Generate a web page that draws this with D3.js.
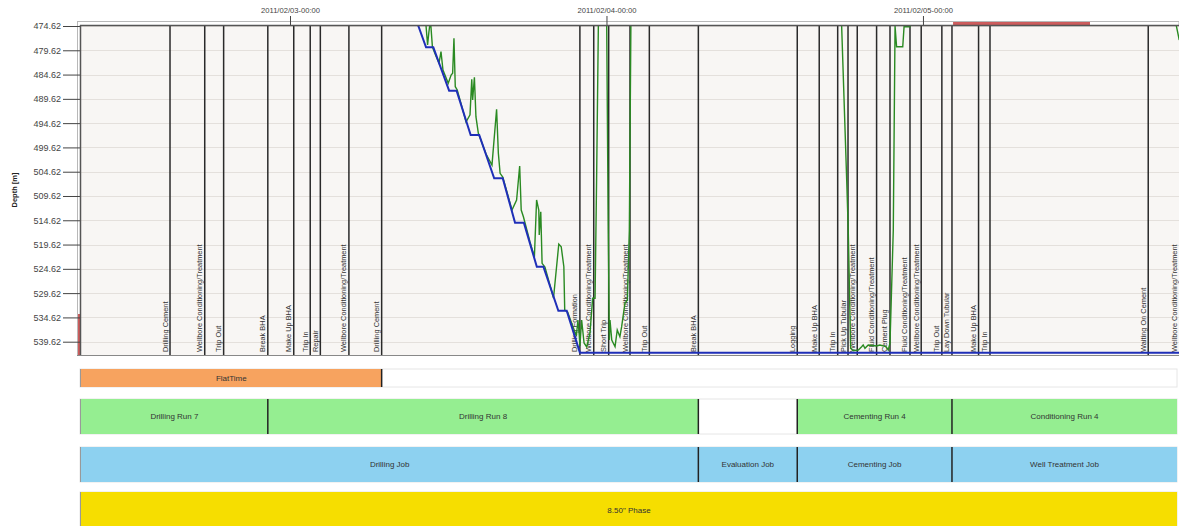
<!DOCTYPE html>
<html><head><meta charset="utf-8">
<script src="https://cdn.jsdelivr.net/npm/d3@7"></script>
<style>
body{margin:0;background:#fff;}
svg{font-family:"Liberation Sans",Arial,sans-serif;display:block}
</style>
</head><body>
<svg id="chart" width="1179" height="526"></svg>
<script>
// ---------- data ----------
const timeDomain = ["2011-02-02 08:09", "2011-02-05 19:25"];
const depthDomain = [474.62, 542.36];
const depthTicks = [474.62, 479.62, 484.62, 489.62, 494.62, 499.62, 504.62, 509.62, 514.62, 519.62, 524.62, 529.62, 534.62, 539.62];
const timeTicks = ["2011-02-03 00:00", "2011-02-04 00:00", "2011-02-05 00:00"];

const activityNames = [
  "Drilling Cement", "Wellbore Conditioning/Treatment", "Trip Out", "Break BHA", "Make Up BHA",
  "Trip In", "Repair", "Wellbore Conditioning/Treatment", "Drilling Cement", "Drilling Formation",
  "Wellbore Conditioning/Treatment", "Short Trip", "Wellbore Conditioning/Treatment", "Trip Out", "Break BHA",
  "Logging", "Make Up BHA", "Trip In", "Pick Up Tubular", "Wellbore Conditioning/Treatment",
  "Fluid Conditioning/Treatment", "Cement Plug", "Fluid Conditioning/Treatment", "Wellbore Conditioning/Treatment", "Trip Out",
  "Lay Down Tubular", "Make Up BHA", "Trip In", "Waiting On Cement", "Wellbore Conditioning/Treatment"
];
const activityEnds = [
  "2011-02-02 14:54", "2011-02-02 17:32", "2011-02-02 18:58", "2011-02-02 22:19", "2011-02-03 00:17",
  "2011-02-03 01:32", "2011-02-03 02:18", "2011-02-03 04:28", "2011-02-03 06:57", "2011-02-03 21:59",
  "2011-02-03 23:02", "2011-02-04 00:10", "2011-02-04 01:47", "2011-02-04 03:15", "2011-02-04 06:58",
  "2011-02-04 14:28", "2011-02-04 16:08", "2011-02-04 17:32", "2011-02-04 18:19", "2011-02-04 19:01",
  "2011-02-04 20:29", "2011-02-04 21:30", "2011-02-04 23:01", "2011-02-04 23:52", "2011-02-05 01:26",
  "2011-02-05 02:12", "2011-02-05 04:13", "2011-02-05 05:05", "2011-02-05 17:05", "2011-02-05 19:25"
];

// hole depth (blue)
const holeDepth = [
  ["2011-02-03 09:20", 472.0], ["2011-02-03 09:44", 474.62], ["2011-02-03 10:19", 479.00], ["2011-02-03 10:52", 479.00],
  ["2011-02-03 12:04", 487.94], ["2011-02-03 12:38", 487.94], ["2011-02-03 13:42", 497.06], ["2011-02-03 14:21", 497.06],
  ["2011-02-03 15:29", 505.98], ["2011-02-03 16:08", 505.98], ["2011-02-03 17:04", 515.12], ["2011-02-03 17:44", 515.12],
  ["2011-02-03 18:43", 524.18], ["2011-02-03 19:13", 524.18], ["2011-02-03 20:21", 533.24], ["2011-02-03 20:59", 533.24],
  ["2011-02-03 21:59", 541.88], ["2011-02-05 19:25", 541.88]
];

// bit depth (green)
const bitDepth = [
  ["2011-02-03 09:51", 468.2], ["2011-02-03 10:19", 474.62], ["2011-02-03 10:26", 478.53], ["2011-02-03 10:32", 475.86],
  ["2011-02-03 10:39", 473.38], ["2011-02-03 10:48", 478.94], ["2011-02-03 11:04", 480.80], ["2011-02-03 11:18", 482.24],
  ["2011-02-03 11:27", 479.91], ["2011-02-03 11:36", 483.68], ["2011-02-03 12:00", 486.42], ["2011-02-03 12:13", 484.71],
  ["2011-02-03 12:20", 484.36], ["2011-02-03 12:26", 477.15], ["2011-02-03 12:32", 487.12], ["2011-02-03 12:41", 487.80],
  ["2011-02-03 13:07", 492.04], ["2011-02-03 13:21", 494.39], ["2011-02-03 13:39", 492.92], ["2011-02-03 13:47", 485.59],
  ["2011-02-03 13:51", 489.86], ["2011-02-03 13:59", 485.18], ["2011-02-03 14:06", 493.29], ["2011-02-03 14:17", 496.71],
  ["2011-02-03 14:52", 500.98], ["2011-02-03 15:19", 503.24], ["2011-02-03 15:40", 491.77], ["2011-02-03 15:48", 500.83],
  ["2011-02-03 15:56", 504.95], ["2011-02-03 16:08", 505.71], ["2011-02-03 16:50", 512.51], ["2011-02-03 17:11", 510.45],
  ["2011-02-03 17:25", 503.45], ["2011-02-03 17:32", 512.51], ["2011-02-03 17:42", 513.89], ["2011-02-03 18:12", 519.09],
  ["2011-02-03 18:32", 522.18], ["2011-02-03 18:42", 510.45], ["2011-02-03 18:52", 512.51], ["2011-02-03 18:54", 517.65],
  ["2011-02-03 19:01", 512.85], ["2011-02-03 19:07", 523.48], ["2011-02-03 19:20", 524.24], ["2011-02-03 19:59", 530.62],
  ["2011-02-03 20:23", 519.51], ["2011-02-03 20:34", 520.06], ["2011-02-03 20:46", 524.18], ["2011-02-03 20:50", 533.10],
  ["2011-02-03 21:03", 533.51], ["2011-02-03 21:43", 538.45], ["2011-02-03 21:50", 535.15], ["2011-02-03 21:56", 538.24],
  ["2011-02-03 21:59", 540.51], ["2011-02-03 22:07", 535.15], ["2011-02-03 22:18", 539.89], ["2011-02-03 22:30", 540.71],
  ["2011-02-03 22:45", 537.83], ["2011-02-03 22:57", 530.68], ["2011-02-03 23:08", 530.68], ["2011-02-03 23:15", 506.33],
  ["2011-02-03 23:23", 474.62], ["2011-02-03 23:30", 459.0], ["2011-02-03 23:53", 459.0], ["2011-02-04 00:01", 474.62],
  ["2011-02-04 00:08", 516.62], ["2011-02-04 00:13", 539.27], ["2011-02-04 00:16", 535.15], ["2011-02-04 00:24", 539.27],
  ["2011-02-04 00:39", 540.65], ["2011-02-04 00:49", 537.21], ["2011-02-04 01:01", 538.59], ["2011-02-04 01:09", 536.53],
  ["2011-02-04 01:24", 531.71], ["2011-02-04 01:35", 531.04], ["2011-02-04 01:44", 516.62], ["2011-02-04 01:51", 474.62],
  ["2011-02-04 02:01", 459.0], ["2011-02-04 17:42", 459.0], ["2011-02-04 17:50", 474.62], ["2011-02-04 18:13", 506.33],
  ["2011-02-04 18:20", 516.62], ["2011-02-04 18:31", 540.98], ["2011-02-04 18:43", 541.48], ["2011-02-04 19:06", 541.33],
  ["2011-02-04 19:21", 540.65], ["2011-02-04 19:28", 540.30], ["2011-02-04 19:36", 540.98], ["2011-02-04 19:51", 540.30],
  ["2011-02-04 20:29", 540.51], ["2011-02-04 20:44", 540.30], ["2011-02-04 21:12", 540.65], ["2011-02-04 21:22", 541.33],
  ["2011-02-04 21:30", 539.95], ["2011-02-04 21:45", 516.62], ["2011-02-04 21:53", 474.62], ["2011-02-04 22:00", 478.88],
  ["2011-02-04 22:28", 478.88], ["2011-02-04 22:34", 474.76], ["2011-02-04 23:01", 474.76], ["2011-02-04 23:08", 459.0],
  ["2011-02-05 19:04", 459.0], ["2011-02-05 19:13", 474.62], ["2011-02-05 19:23", 476.82], ["2011-02-05 19:26", 477.5]
];

const topMarker = ["2011-02-05 02:17", "2011-02-05 12:40"];
const leftMarker = [533.92, 542.36];

const rowEnd = "2011-02-05 19:16";
const flatTimeRow = [["FlatTime", "2011-02-02 08:09", "2011-02-03 06:57"]];
const runRow = [
  ["Drilling Run 7", "2011-02-02 08:09", "2011-02-02 22:19"],
  ["Drilling Run 8", "2011-02-02 22:19", "2011-02-04 06:58"],
  ["Cementing Run 4", "2011-02-04 14:28", "2011-02-05 02:12"],
  ["Conditioning Run 4", "2011-02-05 02:12", "2011-02-05 19:16"]
];
const jobRow = [
  ["Drilling Job", "2011-02-02 08:09", "2011-02-04 06:58"],
  ["Evaluation Job", "2011-02-04 06:58", "2011-02-04 14:28"],
  ["Cementing Job", "2011-02-04 14:28", "2011-02-05 02:12"],
  ["Well Treatment Job", "2011-02-05 02:12", "2011-02-05 19:16"]
];
const phaseRow = [['8.50" Phase', "2011-02-02 08:09", "2011-02-05 19:16"]];

// ---------- drawing ----------
const parse = d3.timeParse("%Y-%m-%d %H:%M");
const svg = d3.select("#chart");
const L = 81, R = 1179, T = 26, B = 355;

const x = d3.scaleTime().domain(timeDomain.map(parse)).range([L, R]);
const y = d3.scaleLinear().domain(depthDomain).range([T, B]);

// outer frame strips
svg.append("rect").attr("x", 77.5).attr("y", 21.5).attr("width", R - 77.5).attr("height", B - 21.5)
  .attr("fill", "#fff").attr("stroke", "#b8b8b8").attr("stroke-width", 1);
svg.append("rect").attr("x", x(parse(topMarker[0]))).attr("y", 22).attr("width", x(parse(topMarker[1])) - x(parse(topMarker[0])))
  .attr("height", 4).attr("fill", "#cd5c5c");
svg.append("rect").attr("x", 78).attr("y", y(leftMarker[0])).attr("width", 3).attr("height", y(leftMarker[1]) - y(leftMarker[0]))
  .attr("fill", "#cd5c5c");

// plot background
svg.append("rect").attr("x", L).attr("y", T).attr("width", R - L).attr("height", B - T).attr("fill", "#f8f6f4");

// grid
svg.append("g").selectAll("line").data(depthTicks).join("line")
  .attr("x1", L).attr("x2", R).attr("y1", d => Math.round(y(d)) + 0.5).attr("y2", d => Math.round(y(d)) + 0.5)
  .attr("stroke", "#e4e0dc").attr("stroke-width", 1);

// axes
const yAxis = d3.axisLeft(y).tickValues(depthTicks).tickFormat(d3.format(".2f")).tickSize(17).tickPadding(2);
const gy = svg.append("g").attr("transform", `translate(${L - 1},0)`).call(yAxis);
gy.select(".domain").remove();
gy.selectAll("line").attr("stroke", "#444");
gy.selectAll("text").attr("font-size", "9px").attr("fill", "#444").attr("font-family", "Liberation Sans, Arial, sans-serif");

const xAxis = d3.axisTop(x).tickValues(timeTicks.map(parse)).tickFormat(d3.timeFormat("%Y/%m/%d-%H:%M")).tickSize(10).tickPadding(3);
const gx = svg.append("g").attr("transform", `translate(0,${T})`).call(xAxis);
gx.select(".domain").remove();
gx.selectAll("line").attr("stroke", "#444");
gx.selectAll("text").attr("font-size", "7.6px").attr("fill", "#444").attr("font-family", "Liberation Sans, Arial, sans-serif");

// axis title
svg.append("text").attr("transform", "translate(17,190) rotate(-90)").attr("text-anchor", "middle")
  .attr("font-size", "7.5px").attr("font-weight", "bold").attr("fill", "#222").text("Depth [m]");

// clip
svg.append("clipPath").attr("id", "plotclip").append("rect").attr("x", L).attr("y", T).attr("width", R - L).attr("height", B - T);
const plot = svg.append("g").attr("clip-path", "url(#plotclip)");

// activity boundaries
const ends = activityEnds.map(parse);
plot.append("g").selectAll("line").data(ends.slice(0, -1)).join("line")
  .attr("x1", d => x(d)).attr("x2", d => x(d)).attr("y1", T).attr("y2", B)
  .attr("stroke", "#2a2a2a").attr("stroke-width", 1.5);

// activity labels
plot.append("g").selectAll("text").data(activityNames).join("text")
  .attr("transform", (d, i) => `translate(${x(ends[i]) - 2.5},352) rotate(-90)`)
  .attr("font-size", "7.4px").attr("fill", "#333").text(d => d);

// border of plot
svg.append("line").attr("x1", L - 0.5).attr("x2", L - 0.5).attr("y1", T - 1).attr("y2", B).attr("stroke", "#555").attr("stroke-width", 1.5);
svg.append("line").attr("x1", L - 1).attr("x2", R).attr("y1", T - 0.5).attr("y2", T - 0.5).attr("stroke", "#555").attr("stroke-width", 1.5);
svg.append("line").attr("x1", 77).attr("x2", R).attr("y1", B + 0.5).attr("y2", B + 0.5).attr("stroke", "#888").attr("stroke-width", 1.2);

// lines
const line = d3.line().x(d => x(parse(d[0]))).y(d => y(d[1]));
plot.append("path").datum(bitDepth).attr("d", line).attr("fill", "none").attr("stroke", "#2a8a22").attr("stroke-width", 1.4);
plot.append("path").datum(holeDepth).attr("d", line).attr("fill", "none").attr("stroke", "#1f2fb8").attr("stroke-width", 2);

// ---------- bottom rows ----------
function drawRow(data, y0, h, color) {
  const g = svg.append("g");
  const x0 = x(parse(timeDomain[0])) - 1, x1 = x(parse(rowEnd));
  g.append("rect").attr("x", x0).attr("y", y0).attr("width", x1 - x0).attr("height", h)
    .attr("fill", "#fff").attr("stroke", "#e6e6e6").attr("stroke-width", 1);
  g.selectAll("rect.seg").data(data).join("rect").attr("class", "seg")
    .attr("x", d => Math.max(x0, x(parse(d[1])))).attr("y", y0)
    .attr("width", d => x(parse(d[2])) - Math.max(x0, x(parse(d[1])))).attr("height", h).attr("fill", color);
  g.selectAll("text").data(data).join("text")
    .attr("x", d => (Math.max(x0, x(parse(d[1]))) + x(parse(d[2]))) / 2).attr("y", y0 + h / 2 + 2.8)
    .attr("text-anchor", "middle").attr("font-size", "8px").attr("fill", "#333").text(d => d[0]);
  // dividers
  const bounds = new Set();
  data.forEach(d => { bounds.add(d[1]); bounds.add(d[2]); });
  const bl = [...bounds].map(parse).map(t => x(t)).filter(v => v > x0 + 2 && v < x1 - 2);
  g.selectAll("line.div").data(bl).join("line").attr("class", "div")
    .attr("x1", d => d).attr("x2", d => d).attr("y1", y0).attr("y2", y0 + h)
    .attr("stroke", "#222").attr("stroke-width", 1.5);
  g.append("line").attr("x1", x0 + 0.5).attr("x2", x0 + 0.5).attr("y1", y0).attr("y2", y0 + h).attr("stroke", "#999").attr("stroke-width", 1);
}
drawRow(flatTimeRow, 369, 18, "#f7a35f");
drawRow(runRow, 399, 35, "#95ee91");
drawRow(jobRow, 447, 35, "#8dd1f0");
drawRow(phaseRow, 492, 36, "#f6de00");
</script>
</body></html>
